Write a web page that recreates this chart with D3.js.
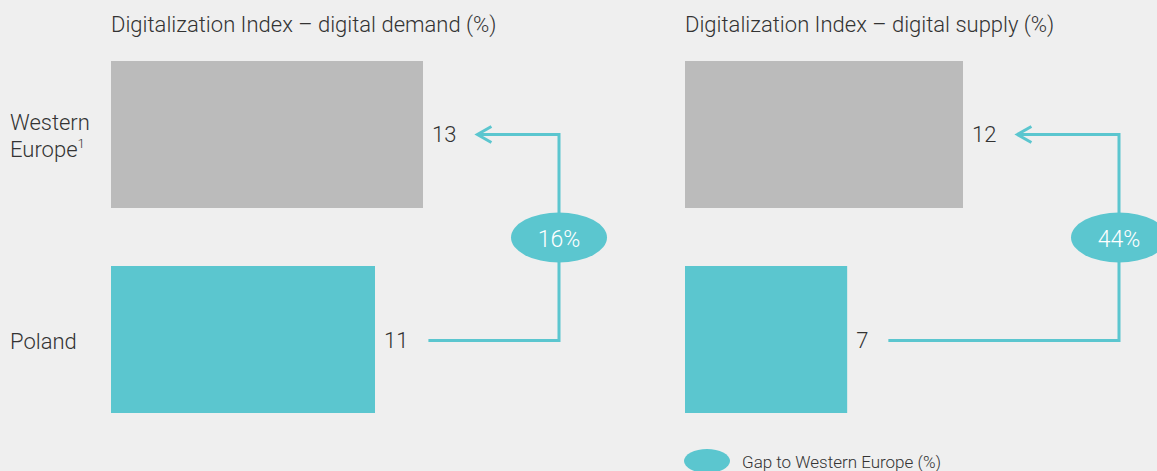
<!DOCTYPE html>
<html>
<head>
<meta charset="utf-8">
<script src="https://cdn.jsdelivr.net/npm/d3@7"></script>
<style>
  body { margin: 0; background: #efefef; }
  svg text { font-family: Roboto, "Liberation Sans", sans-serif; font-weight: 300; fill: #333; }
</style>
</head>
<body>
<div id="chart"></div>
<script>
// data
const categories = ["Western Europe", "Poland"];
const panelTitles = ["Digitalization Index – digital demand (%)", "Digitalization Index – digital supply (%)"];
const demandValues = [13, 11];
const supplyValues = [12, 7];
const gapLabels = ["16%", "44%"];
const legendLabel = "Gap to Western Europe (%)";

const width = 1157, height = 471;
const grey = "#bbbbbb", teal = "#5bc6cf";

const svg = d3.select("#chart").append("svg")
  .attr("width", width)
  .attr("height", height);

svg.append("rect").attr("width", width).attr("height", height).attr("fill", "#efefef");

const yScale = d3.scaleBand()
  .domain(categories)
  .range([61, 413])
  .paddingInner(0.283)
  .paddingOuter(0);

// category labels
let westLabel = svg.append("text")
  .attr("x", 10)
  .attr("y", yScale("Western Europe") + yScale.bandwidth() / 2 - 4)
  .style("font-size", "22px");
westLabel.append("tspan").attr("x", 10).text("Western");
westLabel.append("tspan").attr("x", 10).attr("dy", 27).text("Europe");
westLabel.append("tspan").attr("dy", -9).style("font-size", "13px").text("1");

svg.append("text")
  .attr("x", 10)
  .attr("y", yScale("Poland") + yScale.bandwidth() / 2 + 9)
  .style("font-size", "22px")
  .text("Poland");

// one panel per index
const panels = [
  {title: panelTitles[0], values: demandValues, gap: gapLabels[0], x0: 111, pxMax: 312, connX: 559},
  {title: panelTitles[1], values: supplyValues, gap: gapLabels[1], x0: 685, pxMax: 278, connX: 1119}
];

panels.forEach(function(p) {
  let g = svg.append("g").attr("transform", "translate(" + p.x0 + ",0)");

  let xScale = d3.scaleLinear()
    .domain([0, p.values[0]])
    .range([0, p.pxMax]);

  g.append("text")
    .attr("x", 0)
    .attr("y", 32)
    .style("font-size", "22px")
    .text(p.title);

  g.selectAll("rect.bar").data(p.values)
    .enter()
    .append("rect")
    .attr("class", "bar")
    .attr("x", 0)
    .attr("y", (d, i) => yScale(categories[i]))
    .attr("width", d => xScale(d))
    .attr("height", yScale.bandwidth())
    .attr("fill", (d, i) => i == 0 ? grey : teal);

  let labels = g.selectAll("text.val").data(p.values)
    .enter()
    .append("text")
    .attr("class", "val")
    .attr("x", d => xScale(d) + 9)
    .attr("y", (d, i) => yScale(categories[i]) + yScale.bandwidth() / 2 + 8)
    .style("font-size", "22px")
    .text(d => d);

  let ends = [];
  labels.each(function(d) {
    ends.push(xScale(d) + 9 + this.getComputedTextLength());
  });

  let topY = yScale(categories[0]) + yScale.bandwidth() / 2;
  let botY = yScale(categories[1]) + yScale.bandwidth() / 2 + 1;
  let cx = p.connX - p.x0;
  let tipX = ends[0] + 21;

  g.append("path")
    .attr("d", "M" + (ends[1] + 20) + "," + botY + "H" + cx + "V" + topY + "H" + tipX)
    .attr("fill", "none")
    .attr("stroke", teal)
    .attr("stroke-width", 3);

  g.append("path")
    .attr("d", "M" + (tipX + 14) + "," + (topY - 8) + "L" + tipX + "," + topY + "L" + (tipX + 14) + "," + (topY + 8))
    .attr("fill", "none")
    .attr("stroke", teal)
    .attr("stroke-width", 3);

  let midY = (topY + botY) / 2;
  g.append("ellipse")
    .attr("cx", cx)
    .attr("cy", midY)
    .attr("rx", 48)
    .attr("ry", 25)
    .attr("fill", teal);

  g.append("text")
    .attr("x", cx)
    .attr("y", midY + 9)
    .attr("text-anchor", "middle")
    .style("font-size", "23px")
    .style("fill", "#fff")
    .text(p.gap);
});

// legend
svg.append("ellipse")
  .attr("cx", 707)
  .attr("cy", 461)
  .attr("rx", 23)
  .attr("ry", 12)
  .attr("fill", teal);

svg.append("text")
  .attr("x", 742)
  .attr("y", 468)
  .style("font-size", "17px")
  .text(legendLabel);
</script>
</body>
</html>
